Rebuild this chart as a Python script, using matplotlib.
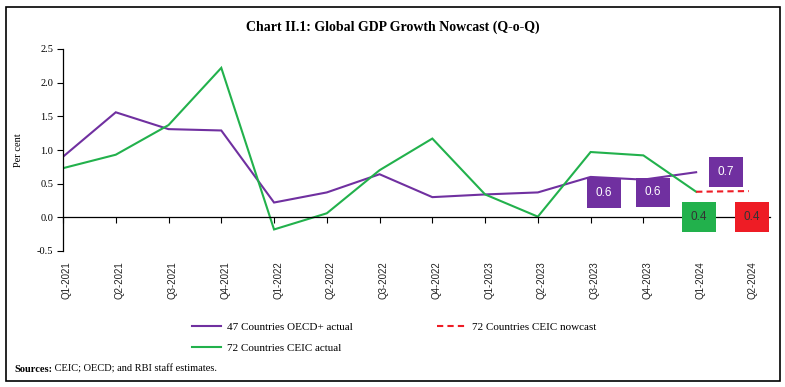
import matplotlib
matplotlib.use("Agg")
import matplotlib.pyplot as plt
import matplotlib.transforms as mtransforms
from matplotlib.patches import Rectangle
from matplotlib.lines import Line2D
from matplotlib.text import Annotation

quarters = ["Q1-2021", "Q2-2021", "Q3-2021", "Q4-2021", "Q1-2022", "Q2-2022",
            "Q3-2022", "Q4-2022", "Q1-2023", "Q2-2023", "Q3-2023", "Q4-2023",
            "Q1-2024", "Q2-2024"]
oecd_actual = [0.90, 1.56, 1.31, 1.29, 0.22, 0.37, 0.64, 0.30, 0.34, 0.37, 0.60, 0.56, 0.67]
ceic_actual = [0.73, 0.93, 1.37, 2.22, -0.18, 0.06, 0.70, 1.17, 0.34, 0.01, 0.97, 0.92, 0.38]
ceic_nowcast_idx = [12, 13]
ceic_nowcast = [0.38, 0.39]

yticks = [-0.5, 0.0, 0.5, 1.0, 1.5, 2.0, 2.5]

PURPLE = "#7030A0"
GREEN = "#22B14C"
RED = "#EE1C25"

# annotation placements (value label boxes)
labels = [
    # (x position, y position, text, facecolor, textcolor)
    (10.25, 0.36, f"{oecd_actual[10]:.1f}", PURPLE, "white"),
    (11.18, 0.37, f"{oecd_actual[11]:.1f}", PURPLE, "white"),
    (12.56, 0.67, f"{oecd_actual[12]:.1f}", PURPLE, "white"),
    (12.05, 0.0, f"{ceic_actual[12]:.1f}", GREEN, "#333333"),
    (13.06, 0.0, f"{ceic_nowcast[1]:.1f}", RED, "#333333"),
]

serif = ["Liberation Serif", "DejaVu Serif"]
sans = ["Liberation Sans", "DejaVu Sans"]

fig = plt.figure(figsize=(7.85, 3.87), dpi=100)
ax = fig.add_axes([63 / 785, 1 - 251 / 387, (770 - 63) / 785, (251 - 49) / 387])

ax.plot(range(len(oecd_actual)), oecd_actual, color=PURPLE, lw=1.5, solid_joinstyle="miter")
ax.plot(range(len(ceic_actual)), ceic_actual, color=GREEN, lw=1.5, solid_joinstyle="miter")
ax.plot(ceic_nowcast_idx, ceic_nowcast, color=RED, lw=1.5, ls=(0, (3, 2)))

ax.set_xlim(0, 13.4)
ax.set_ylim(-0.5, 2.5)
ax.set_yticks(yticks)
ax.set_yticklabels([f"{v:.1f}" for v in yticks], fontfamily=serif, fontsize=7.5)
ax.tick_params(axis="y", direction="out", length=4, width=0.8, pad=3)

for s in ["top", "right"]:
    ax.spines[s].set_visible(False)
ax.spines["left"].set_linewidth(0.9)
ax.spines["bottom"].set_position(("data", 0))
ax.spines["bottom"].set_linewidth(0.9)
ax.set_xticks(range(len(quarters)))
ax.set_xticklabels([])
ax.tick_params(axis="x", direction="out", length=4, width=0.8)

offset = mtransforms.ScaledTranslation(4 / 100, 0, fig.dpi_scale_trans)
trans = mtransforms.blended_transform_factory(ax.transData, ax.transAxes) + offset
for i, q in enumerate(quarters):
    ax.text(i, -0.05, q, transform=trans, rotation=90, ha="center", va="top",
            fontsize=7, fontfamily=sans, color="#222222")

ax.set_ylabel("Per cent", fontfamily=serif, fontsize=7.5, labelpad=10)

for (xp, yp, txt, fc, tc) in labels:
    ax.text(xp, yp, txt, ha="center", va="center", fontsize=8.5, fontfamily=sans,
            color=tc, bbox=dict(boxstyle="square,pad=0.75", fc=fc, ec="none"),
            zorder=5)

fig.text(0.5, 1 - 27 / 387, "Chart II.1: Global GDP Growth Nowcast (Q-o-Q)",
         ha="center", va="center", fontsize=10, fontweight="bold", fontfamily=serif)

h_oecd = Line2D([], [], color=PURPLE, lw=1.5)
h_now = Line2D([], [], color=RED, lw=1.5, ls=(0, (3, 2)))
h_ceic = Line2D([], [], color=GREEN, lw=1.5)
fig.legend([h_oecd, h_ceic, h_now],
           ["47 Countries OECD+ actual", "72 Countries CEIC actual", "72 Countries CEIC nowcast"],
           ncol=2, loc="upper left", bbox_to_anchor=(188 / 785, 1 - 318 / 387),
           frameon=False, prop={"family": serif, "size": 8},
           handlelength=2.6, handletextpad=0.5, columnspacing=7.6,
           labelspacing=0.95, borderaxespad=0)

src_bold = fig.text(14 / 785, 1 - 369 / 387, "Sources:",
                    ha="left", va="center", fontsize=7.5, fontfamily=serif, fontweight="bold")
fig.add_artist(Annotation(" CEIC; OECD; and RBI staff estimates.", xy=(1, 0.5),
                          xycoords=src_bold, va="center", ha="left",
                          fontsize=7.5, fontfamily=serif))

fig.patches.append(Rectangle((6 / 785, 1 - 381 / 387), (780 - 6) / 785, (381 - 7) / 387,
                             transform=fig.transFigure, fill=False, ec="black", lw=1.2))

fig.savefig("out.png", dpi=100)
